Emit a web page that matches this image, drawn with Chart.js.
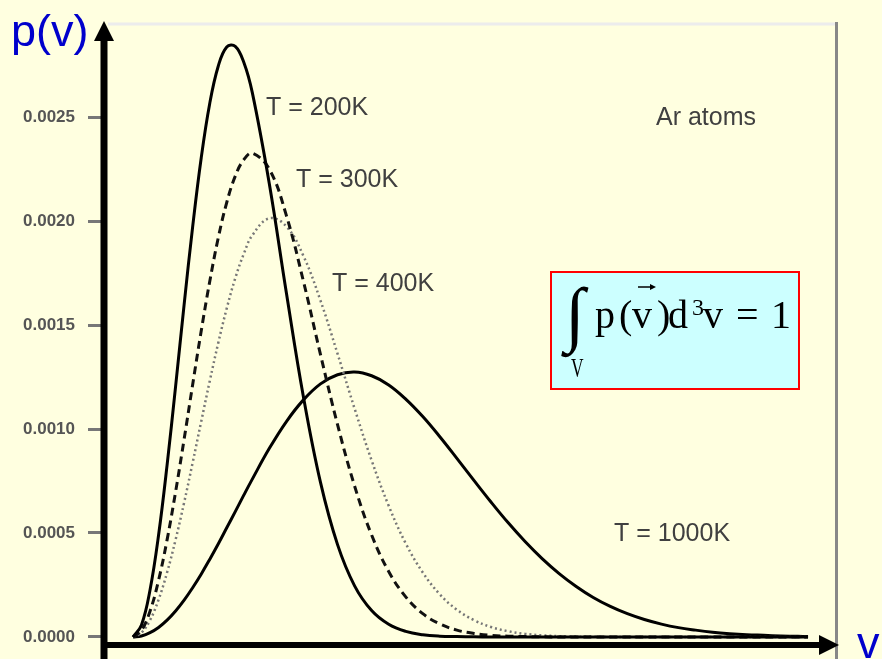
<!DOCTYPE html>
<html>
<head>
<meta charset="utf-8">
<title>Maxwell speed distribution, Ar</title>
<script src="https://cdn.jsdelivr.net/npm/chart.js@4/dist/chart.umd.min.js"></script>
<style>
    html, body { margin: 0; padding: 0; background: #FFFFE0; }
    #wrap { width: 882px; height: 659px; }
</style>
</head>
<body>
<div id="wrap"><canvas id="speedChart" width="882" height="659"></canvas></div>
<script>
// Speeds (m/s) at which each curve is sampled
const speeds = [0, 25, 50, 75, 100, 125, 150, 175, 200, 225, 250, 275, 300, 325, 350, 400, 450, 500, 550, 600, 650,
    700, 750, 800, 850, 900, 950, 1000, 1050, 1100, 1150, 1200, 1250, 1300, 1350, 1400, 1450, 1500, 1550, 1600,
    1650, 1700, 1750, 1800, 1850, 1900, 1950, 1980];

// p(v) for argon at each temperature
const p200 = [0, 0.000058, 0.000226, 0.000489, 0.000826, 0.001205, 0.001598, 0.001972, 0.002302, 0.002564, 0.002744,
    0.002837, 0.002840, 0.002763, 0.002617, 0.002178, 0.001654, 0.001154, 0.000743, 0.000444, 0.000246, 0.000127,
    0.000061, 0.000027, 0.000011, 0.000004, 0.000002, 0.000001, 0, 0, 0, 0, 0, 0, 0, 0, 0, 0, 0, 0, 0, 0, 0, 0, 0,
    0, 0, 0];
const p300 = [0, 0.000032, 0.000124, 0.000272, 0.000467, 0.000698, 0.000951, 0.001213, 0.001470, 0.001708, 0.001918,
    0.002089, 0.002216, 0.002295, 0.002326, 0.002249, 0.002026, 0.001710, 0.001358, 0.001021, 0.000726, 0.000490,
    0.000315, 0.000193, 0.000112, 0.000063, 0.000033, 0.000017, 0.000008, 0.000004, 0.000002, 0.000001, 0, 0, 0, 0,
    0, 0, 0, 0, 0, 0, 0, 0, 0, 0, 0, 0];
const p400 = [0, 0.000021, 0.000081, 0.000179, 0.000310, 0.000468, 0.000646, 0.000838, 0.001035, 0.001229, 0.001413,
    0.001580, 0.001725, 0.001842, 0.001931, 0.002013, 0.001974, 0.001832, 0.001617, 0.001362, 0.001098, 0.000849,
    0.000631, 0.000450, 0.000310, 0.000205, 0.000131, 0.000081, 0.000048, 0.000028, 0.000015, 0.000008, 0.000004,
    0.000002, 0.000001, 0, 0, 0, 0, 0, 0, 0, 0, 0, 0, 0, 0, 0];
const p1000 = [0, 0.000005, 0.000021, 0.000046, 0.000081, 0.000125, 0.000177, 0.000237, 0.000302, 0.000373, 0.000447,
    0.000525, 0.000603, 0.000682, 0.000759, 0.000907, 0.001036, 0.001140, 0.001217, 0.001261, 0.001274, 0.001256,
    0.001212, 0.001144, 0.001060, 0.000963, 0.000859, 0.000753, 0.000649, 0.000550, 0.000459, 0.000377, 0.000305,
    0.000243, 0.000190, 0.000147, 0.000112, 0.000084, 0.000062, 0.000045, 0.000033, 0.000023, 0.000016, 0.000011,
    0.000008, 0.000005, 0.000003, 0.000002];

const tickValues = [0, 0.0005, 0.001, 0.0015, 0.002, 0.0025];
const tickLabels = ['0.0000', '0.0005', '0.0010', '0.0015', '0.0020', '0.0025'];
const curveNames = ['T = 200K', 'T = 300K', 'T = 400K', 'T = 1000K'];

const BG = '#FFFFE0';
const toPoints = arr => speeds.map((v, i) => ({ x: v, y: arr[i] }));

/**
 * Paints the page background, frame, arrows and all text annotations.
 */
const decorations = {
    id: 'decorations',
    beforeDraw(chart) {
        const ctx = chart.ctx;
        ctx.save();
        ctx.fillStyle = BG;
        ctx.fillRect(0, 0, chart.width, chart.height);
        ctx.restore();
    },
    afterDraw(chart) {
        const ctx = chart.ctx;
        ctx.save();

        // frame: pale top edge, grey right edge
        ctx.strokeStyle = '#ececec';
        ctx.lineWidth = 3;
        ctx.beginPath();
        ctx.moveTo(108, 24);
        ctx.lineTo(836, 24);
        ctx.stroke();
        ctx.strokeStyle = '#888';
        ctx.beginPath();
        ctx.moveTo(836.5, 22);
        ctx.lineTo(836.5, 659);
        ctx.stroke();

        // axes with arrow heads
        ctx.strokeStyle = '#000';
        ctx.fillStyle = '#000';
        ctx.lineWidth = 7;
        ctx.beginPath();
        ctx.moveTo(104, 659);
        ctx.lineTo(104, 36);
        ctx.stroke();
        ctx.beginPath();
        ctx.moveTo(104, 21);
        ctx.lineTo(94, 41);
        ctx.lineTo(114, 41);
        ctx.closePath();
        ctx.fill();

        ctx.lineWidth = 6;
        ctx.beginPath();
        ctx.moveTo(101, 645);
        ctx.lineTo(824, 645);
        ctx.stroke();
        ctx.beginPath();
        ctx.moveTo(839, 645);
        ctx.lineTo(819, 635);
        ctx.lineTo(819, 655);
        ctx.closePath();
        ctx.fill();

        // axis names
        ctx.fillStyle = '#0000CC';
        ctx.font = '45px "Liberation Sans", Arial, sans-serif';
        ctx.textBaseline = 'alphabetic';
        ctx.fillText('p(v)', 11, 46);
        ctx.fillText('v', 857, 658);

        // curve labels
        ctx.fillStyle = '#404040';
        ctx.font = '25px "Liberation Sans", Arial, sans-serif';
        ctx.textBaseline = 'middle';
        ctx.fillText(curveNames[0], 266, 108);
        ctx.fillText(curveNames[1], 296, 180);
        ctx.fillText(curveNames[2], 332, 284);
        ctx.fillText(curveNames[3], 614, 534);
        ctx.fillText('Ar atoms', 656, 118);

        // normalisation box
        ctx.fillStyle = '#CCFFFF';
        ctx.fillRect(550, 271, 250, 119);
        ctx.strokeStyle = '#FF0000';
        ctx.lineWidth = 2;
        ctx.strokeRect(551, 272, 248, 117);

        ctx.fillStyle = '#000';
        ctx.textBaseline = 'alphabetic';
        ctx.font = '72px "Liberation Serif", "Times New Roman", serif';
        ctx.fillText('\u222B', 565, 338);
        ctx.font = '40px "Liberation Serif", "Times New Roman", serif';
        ctx.fillText('p', 595, 328);
        ctx.fillText('(', 619, 328);
        ctx.fillText('v', 632, 328);
        ctx.fillText(')', 657, 328);
        ctx.fillText('d', 668, 328);
        ctx.fillText('v', 703, 328);
        ctx.fillText('=', 736, 328);
        ctx.fillText('1', 771, 328);
        ctx.font = '24px "Liberation Serif", "Times New Roman", serif';
        ctx.fillText('3', 692, 315);

        ctx.save();
        ctx.translate(571, 377);
        ctx.scale(0.62, 1);
        ctx.font = '28px "Liberation Serif", "Times New Roman", serif';
        ctx.fillText('V', 0, 0);
        ctx.restore();

        // vector arrow over v
        ctx.strokeStyle = '#000';
        ctx.lineWidth = 1.5;
        ctx.beginPath();
        ctx.moveTo(638, 287);
        ctx.lineTo(653, 287);
        ctx.stroke();
        ctx.beginPath();
        ctx.moveTo(656, 287);
        ctx.lineTo(650, 284);
        ctx.lineTo(650, 290);
        ctx.closePath();
        ctx.fill();

        ctx.restore();
    }
};

const ctx = document.getElementById('speedChart').getContext('2d');
new Chart(ctx, {
    type: 'line',
    data: {
        datasets: [
            { label: curveNames[0], data: toPoints(p200), borderColor: '#000', borderWidth: 3 },
            { label: curveNames[1], data: toPoints(p300), borderColor: '#111', borderWidth: 3, borderDash: [8, 5] },
            { label: curveNames[2], data: toPoints(p400), borderColor: '#777', borderWidth: 2.5, borderDash: [2, 3] },
            { label: curveNames[3], data: toPoints(p1000), borderColor: '#000', borderWidth: 3 }
        ]
    },
    options: {
        responsive: false,
        animation: false,
        devicePixelRatio: 1,
        layout: { padding: { top: 23, right: 46, bottom: 14, left: 0 } },
        elements: {
            point: { radius: 0 },
            line: { tension: 0.4, fill: false }
        },
        plugins: {
            legend: { display: false },
            tooltip: { enabled: false }
        },
        scales: {
            x: {
                type: 'linear',
                min: -85,
                max: 2062,
                display: false
            },
            y: {
                type: 'linear',
                min: -0.0000385,
                max: 0.002952,
                afterBuildTicks: scale => {
                    scale.ticks = tickValues.map(v => ({ value: v }));
                },
                afterFit: scale => {
                    // fixed axis width, no extra room for end labels
                    scale.width = 104;
                    scale.paddingTop = 0;
                    scale.paddingBottom = 0;
                },
                border: { display: false },
                grid: {
                    drawOnChartArea: false,
                    drawTicks: true,
                    tickLength: 16,
                    tickWidth: 3,
                    tickColor: '#777'
                },
                ticks: {
                    padding: 13,
                    color: '#555',
                    font: { family: '"Liberation Sans", Arial, sans-serif', size: 17, weight: 'bold' },
                    callback: (value, index) => tickLabels[index]
                }
            }
        }
    },
    plugins: [decorations]
});
</script>
</body>
</html>
